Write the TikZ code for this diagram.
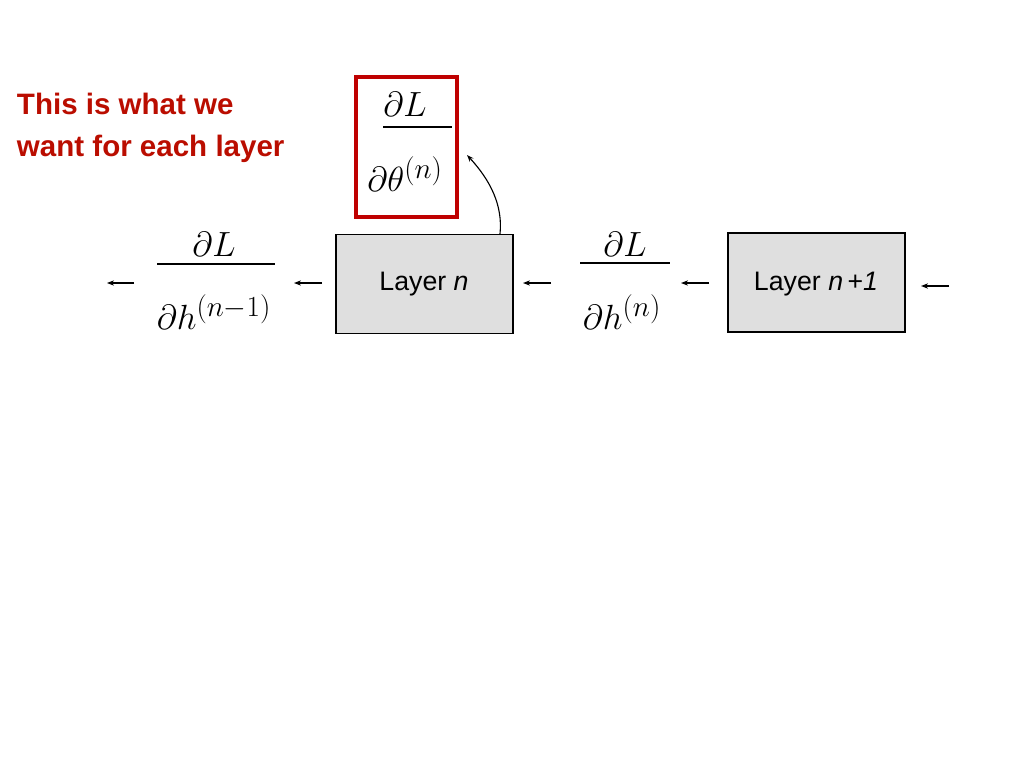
\documentclass[tikz,border=0pt]{standalone}
\usepackage{fontspec}
\setmainfont{Liberation Serif}
\setsansfont{Liberation Sans}
\usetikzlibrary{arrows.meta}
\begin{document}
\begin{tikzpicture}[x=0.025cm,y=-0.025cm,
  layer/.style={draw=black,fill=gray!25,line width=0.8pt,minimum width=177*0.025cm,minimum height=99*0.025cm,inner sep=0,font=\sffamily\fontsize{19}{22}\selectfont},
  mth/.style={font=\fontsize{32}{34}\selectfont},
  arr/.style={-{Stealth[length=5pt]},line width=0.8pt},
  fbar/.style={line width=1.5pt}]
\useasboundingbox (0,0) rectangle (1024,768);
\node[anchor=west,align=left,text=red!70!black!90!orange,font=\sffamily\bfseries\fontsize{21}{30}\selectfont] (txt) at (12,128) {This is what we\\want for each layer};
\node[draw=red!75!black,line width=2.5pt,minimum width=101*0.025cm,minimum height=140*0.025cm] (rbox) at (406.5,147) {};
\node[mth] (tL) at (405,104) {$\partial L$};
\draw[fbar] (383,127) -- (452,127);
\node[mth] (tT) at (405,174) {$\partial\theta^{(n)}$};
\node[layer] (ln) at (424.5,284) {};
\node[anchor=center] at (424,284) {\sffamily\fontsize{19}{22}\selectfont Layer \textit{n}};
\node[layer] (ln1) at (816.5,282.5) {};
\node at (816,284) {\sffamily\fontsize{19}{22}\selectfont Layer \textit{n\,}+\textit{1}};
\node[mth] (aL) at (214,244) {$\partial L$};
\draw[fbar] (157,264) -- (275,264);
\node[mth] (aH) at (214,312) {$\partial h^{(n-1)}$};
\node[mth] (bL) at (625,244) {$\partial L$};
\draw[fbar] (580,263) -- (670,263);
\node[mth] (bH) at (622,312) {$\partial h^{(n)}$};
\coordinate (a1s) at (134,283); \coordinate (a1e) at (107,283);
\coordinate (a2s) at (322,283); \coordinate (a2e) at (294,283);
\coordinate (a3s) at (551,283); \coordinate (a3e) at (523,283);
\coordinate (a4s) at (709,283); \coordinate (a4e) at (681,283);
\coordinate (a5s) at (949,286); \coordinate (a5e) at (921,286);
\foreach \i in {1,...,5} \draw[arr] (a\i s) -- (a\i e);
\coordinate (cs) at (500,234);
\draw[arr] (cs) .. controls (503,205) and (490,180) .. (467,155);
\end{tikzpicture}
\end{document}
